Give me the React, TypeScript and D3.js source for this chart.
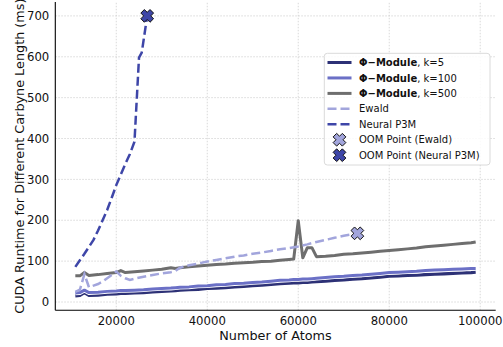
import React from "react";
import * as d3 from "d3";

const moduleAtoms = [11000,12000,13000,14000,16000,18000,20000,21000,22000,24000,26000,28000,30000,32000,33000,34000,36000,38000,40000,42000,44000,46000,48000,50000,52000,54000,56000,58000,59000,60000,61000,62000,63000,64000,66000,68000,70000,72000,74000,76000,78000,80000,82000,84000,86000,88000,90000,92000,94000,96000,98000,99000];
const k5Values = [15,16,23,16,17,19,20,21,21,22,23,25,26,27,28,29,30,31,33,34,35,37,38,40,41,43,45,46,47,47,48,48,49,50,51,53,54,56,57,59,61,63,64,65,66,67,68,69,70,71,72,73];
const k100Values = [22,23,29,23,24,26,27,28,28,29,30,32,33,34,35,36,37,39,40,42,43,45,46,48,49,51,53,54,55,55,56,56,57,58,60,62,63,65,66,68,70,72,73,74,75,77,78,79,80,81,82,82];
const k500Values = [64,64,72,65,67,70,72,77,72,74,76,78,80,84,82,84,86,88,90,92,93,95,96,97,99,100,102,104,105,199,108,133,133,111,112,114,117,118,120,122,124,126,128,130,132,135,137,139,141,143,145,147];

const ewaldAtoms = [11000,12000,13000,14000,15000,16000,17000,18000,19000,20000,21000,22000,23000,24000,26000,28000,30000,32000,33000,34000,36000,38000,40000,42000,44000,46000,48000,50000,52000,54000,56000,58000,60000,62000,64000,66000,68000,70000,72000,73000];
const ewaldValues = [25,30,68,36,40,44,50,58,66,75,64,58,54,57,62,66,70,73,76,84,90,94,99,103,107,111,114,118,121,125,129,132,136,141,147,152,157,162,166,168];

const p3mAtoms = [11000,12000,13000,14000,15000,16000,17000,18000,19000,20000,21000,22000,23000,24000,25000,25600,26800];
const p3mValues = [86,102,118,135,152,175,200,225,255,286,312,338,362,392,598,610,700];

const oomEwald = { atoms: 73000, value: 168 };
const oomP3M = { atoms: 26800, value: 700 };

const xTicks = [20000, 40000, 60000, 80000, 100000];
const yTicks = [0, 100, 200, 300, 400, 500, 600, 700];

const C_K5 = "#2d3176";
const C_K100 = "#6b70c6";
const C_K500 = "#6e6e6e";
const C_EWALD = "#a2a5dc";
const C_P3M = "#3e46a8";

const FONT = "DejaVu Sans";

function xMarkPath(cx: number, cy: number, L = 6.5, t = 2.5) {
  const pts: [number, number][] = [
    [t, t], [L, t], [L, -t], [t, -t], [t, -L], [-t, -L], [-t, -t], [-L, -t], [-L, t], [-t, t], [-t, L], [t, L],
  ];
  const c = Math.SQRT1_2;
  return (
    "M" +
    pts.map(([x, y]) => `${(cx + (x - y) * c).toFixed(2)},${(cy + (x + y) * c).toFixed(2)}`).join("L") +
    "Z"
  );
}

export default function App() {
  const W = 503, H = 347;
  const x = d3.scaleLinear().domain([6600, 103400]).range([55.3, 495.7]);
  const y = d3.scaleLinear().domain([-20.3, 734]).range([310.3, 2]);

  const line = d3
    .line<[number, number]>()
    .x((d) => x(d[0]))
    .y((d) => y(d[1]));

  const zip = (a: number[], b: number[]) => a.map((v, i) => [v, b[i]] as [number, number]);

  const k5 = line(zip(moduleAtoms, k5Values))!;
  const k100 = line(zip(moduleAtoms, k100Values))!;
  const k500 = line(zip(moduleAtoms, k500Values))!;
  const ewald = line(zip(ewaldAtoms, ewaldValues))!;
  const p3m = line(zip(p3mAtoms, p3mValues))!;

  const [x0, x1] = x.range();
  const [yb, yt] = y.range();

  const legendRows = [
    { kind: "solid", color: C_K5, bold: "Φ−Module", rest: ", k=5" },
    { kind: "solid", color: C_K100, bold: "Φ−Module", rest: ", k=100" },
    { kind: "solid", color: C_K500, bold: "Φ−Module", rest: ", k=500" },
    { kind: "dash", color: C_EWALD, bold: "", rest: "Ewald" },
    { kind: "dash", color: C_P3M, bold: "", rest: "Neural P3M" },
    { kind: "mark", color: C_EWALD, bold: "", rest: "OOM Point (Ewald)" },
    { kind: "mark", color: C_P3M, bold: "", rest: "OOM Point (Neural P3M)" },
  ];
  const lgX = 324.3, lgY = 53.3, lgW = 165.7, lgH = 111.7;
  const rowY0 = 62.5, rowStep = 15.45;

  return (
    <svg
      width={W}
      height={H}
      style={{ position: "absolute", left: 0, top: 0, background: "#fff" }}
      fontFamily={FONT}
    >
      <rect width={W} height={H} fill="#fff" />
      {/* grid */}
      {xTicks.map((t) => (
        <line key={"gx" + t} x1={x(t)} x2={x(t)} y1={yb} y2={yt} stroke="#cfcfcf" strokeWidth={0.8} strokeDasharray="1.5,1.5" />
      ))}
      {yTicks.map((t) => (
        <line key={"gy" + t} x1={x0} x2={x1} y1={y(t)} y2={y(t)} stroke="#cfcfcf" strokeWidth={0.8} strokeDasharray="1.5,1.5" />
      ))}

      {/* series */}
      <path d={k5} fill="none" stroke="#fff" strokeWidth={4.6} strokeLinejoin="round" />
      <path d={k5} fill="none" stroke={C_K5} strokeWidth={3.2} strokeLinejoin="round" />
      <path d={k100} fill="none" stroke="#fff" strokeWidth={4.6} strokeLinejoin="round" />
      <path d={k100} fill="none" stroke={C_K100} strokeWidth={3} strokeLinejoin="round" />
      <path d={k500} fill="none" stroke={C_K500} strokeWidth={3} strokeLinejoin="round" />
      <path d={ewald} fill="none" stroke={C_EWALD} strokeWidth={2.5} strokeDasharray="9,4" />
      <path d={p3m} fill="none" stroke={C_P3M} strokeWidth={2.5} strokeDasharray="9,4" />

      <path d={xMarkPath(x(oomEwald.atoms), y(oomEwald.value))} fill={C_EWALD} stroke="#111" strokeWidth={1} strokeLinejoin="miter" />
      <path d={xMarkPath(x(oomP3M.atoms), y(oomP3M.value))} fill={C_P3M} stroke="#111" strokeWidth={1} strokeLinejoin="miter" />

      {/* axes spines */}
      <line x1={x0} x2={x0} y1={yb} y2={yt} stroke="#000" strokeWidth={1.1} />
      <line x1={x0} x2={x1} y1={yb} y2={yb} stroke="#000" strokeWidth={1.1} />

      {/* tick labels */}
      {xTicks.map((t) => (
        <text key={"tx" + t} x={x(t)} y={yb + 14.5} fontSize={11.7} textAnchor="middle" fill="#111">
          {t}
        </text>
      ))}
      {yTicks.map((t) => (
        <text key={"ty" + t} x={x0 - 6} y={y(t) + 4.2} fontSize={11.7} textAnchor="end" fill="#111">
          {t}
        </text>
      ))}

      <text x={(x0 + x1) / 2} y={339.5} fontSize={12.8} textAnchor="middle" fill="#111">
        Number of Atoms
      </text>
      <text
        transform={`translate(23.5,${(yb + yt) / 2}) rotate(-90)`}
        fontSize={12.8}
        textAnchor="middle"
        fill="#111"
      >
        CUDA Runtime for Different Carbyne Length (ms)
      </text>

      {/* legend */}
      <rect x={lgX} y={lgY} width={lgW} height={lgH} rx={3} fill="#fff" fillOpacity={0.85} stroke="#d6d6d6" strokeWidth={0.9} />
      {legendRows.map((r, i) => {
        const cy = rowY0 + i * rowStep;
        return (
          <g key={"lg" + i}>
            {r.kind === "solid" && (
              <line x1={327.5} x2={351.5} y1={cy} y2={cy} stroke={r.color} strokeWidth={3} />
            )}
            {r.kind === "dash" && (
              <line x1={327.5} x2={351.5} y1={cy} y2={cy} stroke={r.color} strokeWidth={2.5} strokeDasharray="9,4" />
            )}
            {r.kind === "mark" && (
              <path d={xMarkPath(339.5, cy)} fill={r.color} stroke="#111" strokeWidth={1} />
            )}
            <text x={359} y={cy + 3.6} fontSize={10} fill="#111">
              {r.bold && <tspan fontWeight="bold">{r.bold}</tspan>}
              <tspan>{r.rest}</tspan>
            </text>
          </g>
        );
      })}
    </svg>
  );
}
